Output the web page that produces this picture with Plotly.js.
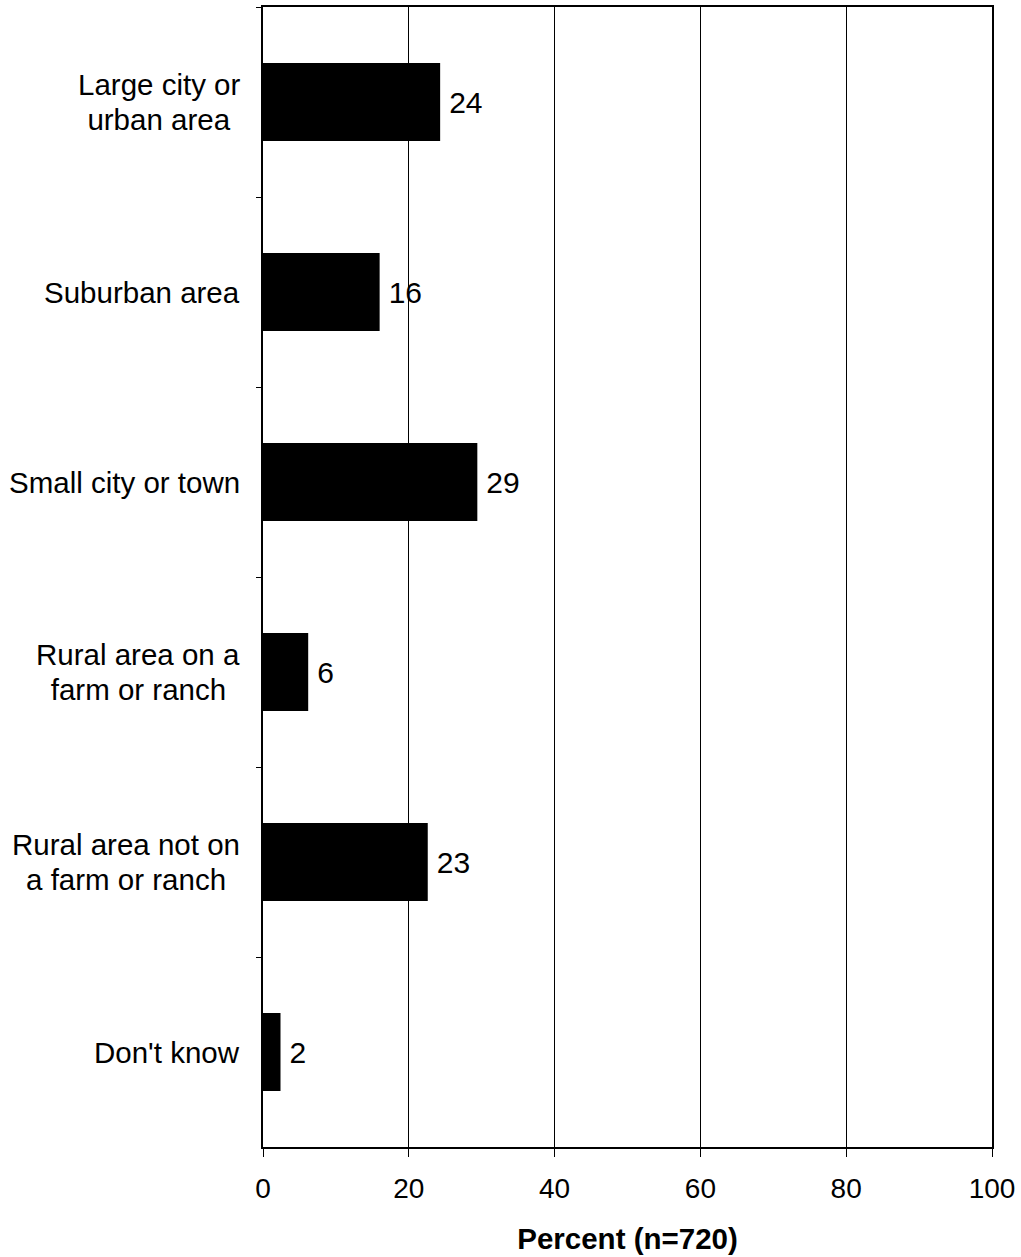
<!DOCTYPE html>
<html>
<head>
<meta charset="utf-8">
<script src="https://cdn.plot.ly/plotly-3.0.1.min.js"></script>
<style>html,body{margin:0;padding:0;background:#fff;}#chart{width:1021px;height:1257px;}</style>
</head>
<body>
<div id="chart"></div>
<script>
const categories = [
  "Large city or<br>urban area",
  "Suburban area",
  "Small city or town",
  "Rural area on a<br>farm or ranch",
  "Rural area not on<br>a farm or ranch",
  "Don't know"
];
const percents = [24.3, 16.0, 29.4, 6.2, 22.6, 2.4];
const valueLabels = ["24", "16", "29", "6", "23", "2"];
const xTickValues = [0, 20, 40, 60, 80, 100];

const FONT = "Liberation Sans, Arial, sans-serif";
const LINE_H = 35;

const trace = {
  type: "bar",
  orientation: "h",
  y: categories,
  x: percents,
  text: valueLabels,
  texttemplate: "\u2009%{text}",
  textposition: "outside",
  cliponaxis: false,
  textfont: {family: FONT, size: 30, color: "#000"},
  marker: {color: "#000", line: {width: 0}},
  hoverinfo: "none"
};

// category labels, centred lines, right edge near the axis
const annotations = [];
categories.forEach(c => {
  const lines = c.split("<br>");
  const n = lines.length;
  const widest = lines.reduce((a, b) => (b.length > a.length ? b : a), "");
  lines.forEach((ln, i) => {
    annotations.push({
      xref: "paper", yref: "y", x: 0, y: c,
      xanchor: "right", yanchor: "middle", xshift: -21,
      yshift: ((n - 1) / 2 - i) * LINE_H,
      text: n > 1 ? ln : ln, showarrow: false, align: "center",
      font: {family: FONT, size: 29.5, color: "#000"}
    });
  });
});

const layout = {
  width: 1021, height: 1257,
  margin: {l: 263, r: 29, t: 7, b: 110},
  paper_bgcolor: "#fff", plot_bgcolor: "#fff",
  showlegend: false,
  bargap: 0.59,
  font: {family: FONT, size: 28, color: "#000"},
  xaxis: {
    range: [0, 100],
    tickvals: xTickValues,
    ticktext: xTickValues.map(String),
    ticks: "outside", ticklen: 8, tickwidth: 1, tickcolor: "#000",
    ticklabelstandoff: 7,
    showgrid: true, gridcolor: "#000", gridwidth: 1,
    showline: true, linecolor: "#000", linewidth: 2, mirror: true,
    zeroline: false,
    tickfont: {family: FONT, size: 28, color: "#000"},
    title: {text: "<b>Percent (n=720)</b>", font: {family: FONT, size: 29.5, color: "#000"}, standoff: 26}
  },
  yaxis: {
    type: "category",
    autorange: "reversed",
    showticklabels: false,
    tickson: "boundaries",
    ticks: "outside", ticklen: 5, tickwidth: 1, tickcolor: "#000",
    showgrid: false,
    showline: true, linecolor: "#000", linewidth: 2, mirror: true,
    zeroline: false
  },
  annotations: annotations
};

Plotly.newPlot("chart", [trace], layout, {displayModeBar: false, staticPlot: true}).then(gd => {
  // centre multi-line labels on their widest line
  const groups = {};
  gd.querySelectorAll(".annotation").forEach((el, idx) => {
    const a = annotations[idx];
    (groups[a.y] = groups[a.y] || []).push(el);
  });
  Object.values(groups).forEach(els => {
    if (els.length < 2) return;
    const widths = els.map(e => e.querySelector("text").getBBox().width);
    const maxW = Math.max(...widths);
    els.forEach((e, i) => {
      const dx = -(maxW - widths[i]) / 2;
      const g = e.querySelector(".annotation-text-g");
      const t = g.getAttribute("transform") || "";
      g.setAttribute("transform", t + " translate(" + dx + ",0)");
    });
  });
});
</script>
</body>
</html>
